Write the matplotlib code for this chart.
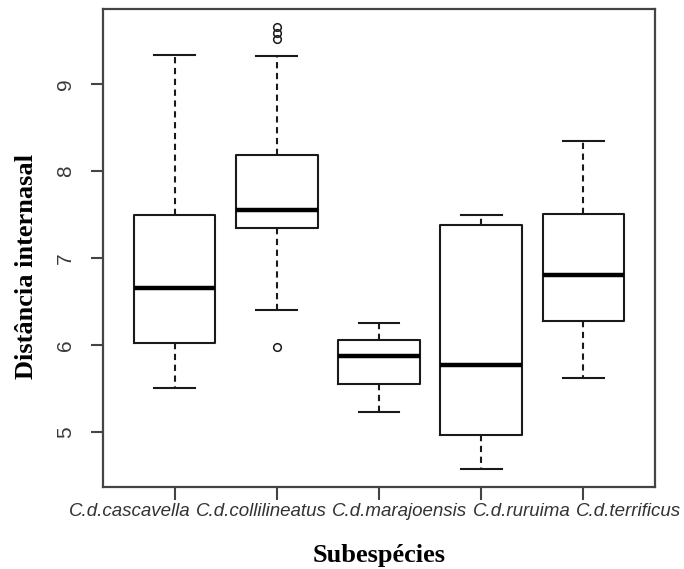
import matplotlib
matplotlib.use("Agg")
import matplotlib.pyplot as plt
from matplotlib.transforms import IdentityTransform

# Five-number summaries per subspecies
subspecies = ["C.d.cascavella", "C.d.collilineatus", "C.d.marajoensis",
              "C.d.ruruima", "C.d.terrificus"]
whisker_low = [5.50, 6.40, 5.23, 4.57, 5.62]
q1 = [6.02, 7.35, 5.55, 4.97, 6.27]
median = [6.65, 7.55, 5.87, 5.77, 6.81]
q3 = [7.50, 8.18, 6.06, 7.38, 7.51]
whisker_high = [9.33, 9.32, 6.25, 7.50, 8.35]
outliers = [[], [9.66, 9.59, 9.52, 5.98], [], [], []]
y_ticks = [5, 6, 7, 8, 9]

stats = []
for i, name in enumerate(subspecies):
    stats.append(dict(label=name, whislo=whisker_low[i], q1=q1[i], med=median[i],
                      q3=q3[i], whishi=whisker_high[i], fliers=outliers[i]))

DPI = 100
fig = plt.figure(figsize=(6.84, 5.69), dpi=DPI)
ax = fig.add_axes([0.1506, 0.1441, 0.8070, 0.8401])

line_col = "#1a1a1a"
ax.bxp(stats, positions=range(1, 6), widths=0.8, patch_artist=False,
       boxprops=dict(color=line_col, linewidth=1.5),
       medianprops=dict(color="black", linewidth=3.2, solid_capstyle="butt"),
       whiskerprops=dict(color=line_col, linewidth=1.5, linestyle=(0, (3, 2.2))),
       capprops=dict(color=line_col, linewidth=1.5),
       capwidths=0.4,
       flierprops=dict(marker="o", markersize=5.5, markerfacecolor="none",
                       markeredgecolor=line_col, markeredgewidth=1.1))

lo = min(whisker_low + [v for o in outliers for v in o])
hi = max(whisker_high + [v for o in outliers for v in o])
pad = 0.04 * (hi - lo)
ax.set_ylim(lo - pad, hi + pad)
ax.set_xlim(0.3, 5.7)

ax.set_yticks(y_ticks)
ax.set_yticklabels([str(t) for t in y_ticks], rotation=90, va="center",
                   fontsize=15, family="Liberation Sans", color="#3a3a3a")
ax.set_xticks(range(1, 6))
ax.set_xticklabels([])
ax.tick_params(axis="both", length=9, width=1.5, color="#444444")
ax.tick_params(axis="y", pad=11)

for s in ax.spines.values():
    s.set_linewidth(1.6)
    s.set_color("#444444")

ax.set_ylabel("Distância internasal", fontsize=19, fontweight="bold",
              family="Liberation Serif")
ax.yaxis.set_label_coords(-0.118, 0.462)
ax.set_xlabel("Subespécies", fontsize=19, fontweight="bold",
              family="Liberation Serif", va="baseline")
ax.xaxis.set_label_coords(0.5, -0.157)

# Subspecies names set in one running line beneath the axis, separated by a space
fig_h_px = 5.69 * DPI
baseline_px = fig_h_px - 516
name_texts = [fig.text(0, 0, n, fontsize=13.5, family="Liberation Sans",
                       style="italic", color="#333333", ha="left", va="baseline",
                       transform=IdentityTransform())
              for n in subspecies]
fig.canvas.draw()
renderer = fig.canvas.get_renderer()
widths = [t.get_window_extent(renderer).width for t in name_texts]
space = 13.5 * DPI / 72 * 0.278
total = sum(widths) + space * (len(widths) - 1)
x0 = 375 - total / 2
for t, w in zip(name_texts, widths):
    t.set_position((x0, baseline_px))
    x0 += w + space

fig.savefig("out.png", dpi=DPI, facecolor="white")
